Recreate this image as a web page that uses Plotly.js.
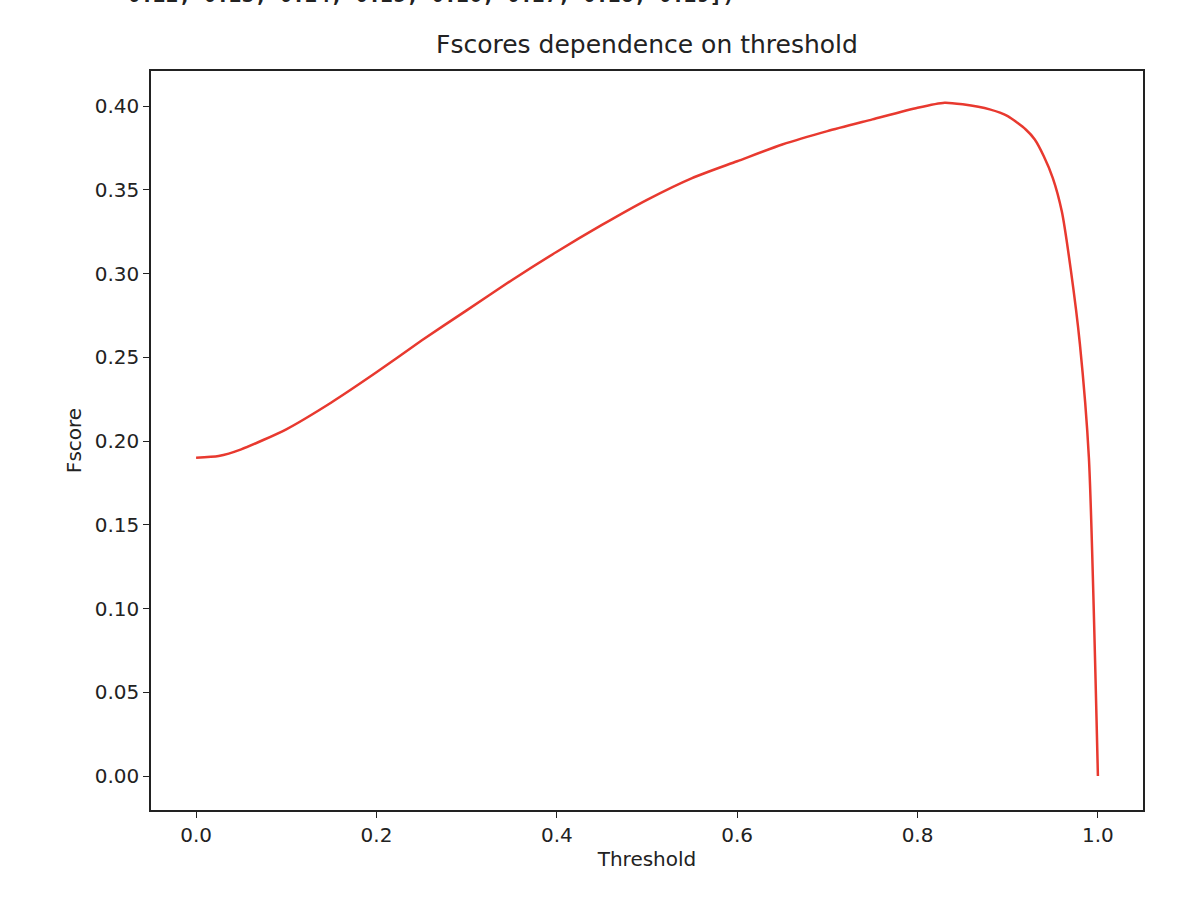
<!DOCTYPE html>
<html>
<head>
<meta charset="utf-8">
<script src="https://cdn.plot.ly/plotly-3.0.1.min.js"></script>
<style>body{margin:0;background:#fff}#chart{width:1190px;height:912px}</style>
</head>
<body>
<div id="chart"></div>
<script>
// thresholds and fscores
let thresholds = [0.0, 0.025, 0.05, 0.1, 0.15, 0.2, 0.25, 0.3, 0.35, 0.4, 0.45, 0.5, 0.55, 0.6, 0.65, 0.7, 0.75, 0.8, 0.83, 0.85, 0.88, 0.9, 0.92, 0.93, 0.94, 0.95, 0.96, 0.97, 0.98, 0.99, 1.0];
let fscores = [0.190, 0.191, 0.195, 0.207, 0.223, 0.241, 0.260, 0.278, 0.296, 0.313, 0.329, 0.344, 0.357, 0.367, 0.377, 0.385, 0.392, 0.399, 0.402, 0.401, 0.398, 0.394, 0.386, 0.380, 0.370, 0.357, 0.337, 0.302, 0.258, 0.190, 0.0];

var fontMain = {family: 'DejaVu Sans', size: 20, color: '#222'};

var data = [{
    type: 'scatter',
    mode: 'lines',
    x: thresholds,
    y: fscores,
    line: {color: '#e8392f', width: 2.5, shape: 'spline', smoothing: 0.6},
    hoverinfo: 'skip'
}];

var layout = {
    width: 1190,
    height: 912,
    margin: {l: 151, r: 47, t: 71, b: 102},
    paper_bgcolor: '#fff',
    plot_bgcolor: '#fff',
    showlegend: false,
    font: fontMain,
    title: {text: 'Fscores dependence on threshold', font: {family: 'DejaVu Sans', size: 25, color: '#222'}, xref: 'paper', x: 0.5, xanchor: 'center', y: 0.952, yanchor: 'middle'},
    xaxis: {
        range: [-0.05, 1.05], tickvals: [0, 0.2, 0.4, 0.6, 0.8, 1.0], ticktext: ['0.0', '0.2', '0.4', '0.6', '0.8', '1.0'],
        showgrid: false, zeroline: false, showline: true, mirror: true, linecolor: '#222', linewidth: 1.5,
        ticks: 'outside', ticklen: 6, tickcolor: '#222',
        title: {text: 'Threshold', font: fontMain, standoff: 6}
    },
    yaxis: {
        range: [-0.0203, 0.4209], tickvals: [0, 0.05, 0.1, 0.15, 0.2, 0.25, 0.3, 0.35, 0.4], tickformat: '.2f',
        showgrid: false, zeroline: false, showline: true, mirror: true, linecolor: '#222', linewidth: 1.5,
        ticks: 'outside', ticklen: 6, tickcolor: '#222',
        title: {text: 'Fscore', font: fontMain, standoff: 8}
    },
    annotations: [{
        text: '0.22, 0.23, 0.24, 0.25, 0.26, 0.27, 0.28, 0.29])',
        xref: 'paper', yref: 'paper', x: -0.025, y: 1.103, xanchor: 'left', yanchor: 'middle',
        showarrow: false, font: {family: 'DejaVu Sans Mono', size: 21, color: '#222', weight: 'bold'}
    }]
};

Plotly.newPlot('chart', data, layout, {displayModeBar: false});
</script>
</body>
</html>
